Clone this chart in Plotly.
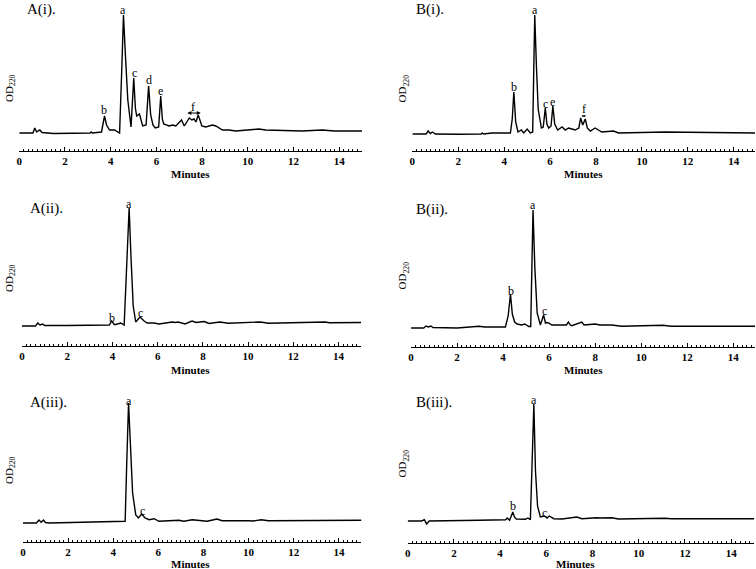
import plotly.graph_objects as go

W, H = 756, 569
SERIF = "Liberation Serif, Times New Roman, serif"

# ---------------- data (retention time in minutes, OD220 signal, arbitrary units) ----------------
a1_t = [0, 0.6, 0.68, 0.76, 0.9, 1.0, 1.5, 2.5, 3.1, 3.15, 3.2, 3.6, 3.73, 3.82, 3.95, 4.17, 4.39, 4.48,
        4.56, 4.64, 4.75, 4.89, 5.01, 5.08, 5.14, 5.26, 5.40, 5.55, 5.66, 5.75, 5.85, 5.95, 6.10, 6.19,
        6.26, 6.32, 6.42, 6.56, 6.71, 6.85, 7.10, 7.22, 7.44, 7.55, 7.65, 7.73, 7.83, 7.99, 8.16, 8.45,
        8.60, 8.89, 9.18, 9.47, 9.98, 10.48, 10.78, 12.37, 13.24, 13.8, 15]
a1_od = [0, 0, 5, 1, 3, 0.5, -0.5, -0.5, 0, 1, 0, 1, 17, 8, 3, 3, 0, 60,
         118, 80, 33, 6, 55, 25, 17, 19, 7, 8, 47, 18, 8, 5, 6, 37,
         14, 9, 8, 7, 8, 7, 13, 7, 15, 13, 14, 11, 18, 7, 6, 8,
         7, 3, 3, 2, 3, 4, 3, 2, 3, 2, 2]
a1_lab_t = [4.56, 3.73, 5.03, 5.66, 6.19, 7.61]
a1_lab_y = [123, 23, 60, 53, 42, 26]
a1_lab = ["a", "b", "c", "d", "e", "f"]

b1_t = [0, 0.6, 0.69, 0.78, 0.87, 1.0, 2.0, 3.0, 3.04, 3.1, 3.47, 4.27, 4.35, 4.42, 4.5, 4.60, 4.75,
        4.85, 5.0, 5.14, 5.24, 5.28, 5.33, 5.40, 5.48, 5.62, 5.70, 5.79, 5.86, 5.94, 6.04, 6.12, 6.20,
        6.33, 6.52, 6.66, 6.80, 6.95, 7.09, 7.25, 7.33, 7.42, 7.53, 7.62, 7.75, 7.96, 8.11, 8.25, 8.76,
        8.98, 11.0, 15]
b1_od = [0, 0, 3, 0.5, 2, 0, -0.3, 0, 1, 0, 1, 1, 15, 42, 12, 2, 4,
         1, 5, 1, 2, 60, 119, 70, 25, 6, 7, 26, 10, 6, 8, 28, 10,
         4, 7, 4, 6, 5, 4, 6, 16, 9, 15, 6, 3, 6, 4, 2, 3,
         1, 2, 1]
b1_lab_t = [5.33, 4.42, 5.79, 6.12, 7.47]
b1_lab_y = [124, 47, 30, 32, 25]
b1_lab = ["a", "b", "c", "e", "f"]

a2_t = [0, 0.6, 0.70, 0.80, 0.92, 1.0, 2.0, 3.0, 3.86, 3.97, 4.08, 4.15, 4.37, 4.52, 4.60, 4.74, 4.82,
        4.92, 5.03, 5.22, 5.40, 5.54, 5.84, 6.06, 6.64, 6.79, 6.91, 7.21, 7.52, 7.70, 7.87, 8.06, 8.27,
        8.46, 8.75, 9.13, 10.53, 10.9, 13.39, 13.6, 15]
a2_od = [0, 0, 3, 1, 2, 0.5, 0.5, 1, 1, 5, 1.5, 1.5, 3, 1, 50, 118, 70,
         20, 4, 9, 5, 3, 3, 2, 4, 3.5, 4, 2, 5, 3.5, 4, 4.5, 2.5,
         3, 4, 2.7, 4, 2.8, 4, 3.2, 3.5]
a2_lab_t = [4.74, 3.99, 5.22]
a2_lab_y = [122, 8, 13]
a2_lab = ["a", "b", "c"]

b2_t = [0, 0.55, 0.65, 0.75, 0.86, 0.95, 2.0, 2.95, 3.2, 4.1, 4.22, 4.32, 4.40, 4.50, 4.61, 4.80, 4.94,
        5.12, 5.20, 5.30, 5.38, 5.48, 5.62, 5.76, 5.84, 5.90, 5.98, 6.12, 6.75, 6.84, 6.92, 6.99, 7.42,
        7.52, 7.64, 8.0, 8.21, 8.72, 9.15, 10.95, 11.3, 15]
b2_od = [0, 0, 2, 1, 2, 0.5, 0, 1.7, 1, 1, 12, 34, 14, 6, 4, 3, 4,
         1.5, 1.5, 118, 60, 15, 3, 13, 5, 5.5, 5, 3, 3, 6, 3, 2.3, 6,
         3, 3.3, 4, 3, 3, 1.7, 2.7, 1.7, 1.7]
b2_lab_t = [5.30, 4.34, 5.79]
b2_lab_y = [123, 37, 17]
b2_lab = ["a", "b", "c"]

a3_t = [0, 0.6, 0.71, 0.81, 0.91, 1.0, 1.18, 2.0, 3.0, 3.82, 4.0, 4.53, 4.60, 4.68, 4.76, 4.86, 5.0,
        5.12, 5.26, 5.41, 5.59, 5.81, 6.03, 6.91, 7.13, 7.5, 7.72, 8.16, 8.6, 8.82, 10.0, 10.2, 10.56,
        10.88, 15]
a3_od = [0, 0, 3, 0.7, 3, 0.5, 0, 0.3, 0.8, 1, 1, 1.7, 60, 120, 80, 30, 8,
         5, 9, 5, 3.3, 4.3, 1.7, 2.7, 1.7, 3.3, 2.7, 1.7, 4, 2.3, 2.3, 2, 3.3,
         2.3, 2.7]
a3_lab_t = [4.68, 5.29]
a3_lab_y = [122, 12]
a3_lab = ["a", "c"]

b3_t = [0, 0.6, 0.72, 0.82, 0.93, 1.1, 2.0, 3.09, 4.24, 4.31, 4.41, 4.48, 4.55, 4.62, 4.70, 5.10, 5.20,
        5.31, 5.38, 5.46, 5.53, 5.62, 5.74, 5.92, 6.03, 6.13, 6.32, 6.68, 7.32, 7.54, 8.18, 8.33, 8.83,
        9.12, 11.13, 11.4, 15]
b3_od = [0, 0, 1.3, -3, 0, 0, 0.3, 0.7, 1.3, 3, 0.7, 4, 9, 4, 2, 1.7, 3,
         1.3, 60, 117, 50, 15, 4, 5, 3, 5, 2.3, 2, 4, 2.3, 3.3, 3, 3.3,
         2, 2.7, 2.3, 2.3]
b3_lab_t = [5.46, 4.55, 5.92]
b3_lab_y = [121, 15, 8]
b3_lab = ["a", "b", "c"]

panel_names = ["A(i).", "B(i).", "A(ii).", "B(ii).", "A(iii).", "B(iii)."]
tick_vals = [0, 2, 4, 6, 8, 10, 12, 14]
tick_text = ["0", "2", "4", "6", "8", "10", "12", "14"]
x_title = "Minutes"
y_title = "OD<sub>220</sub>"

series = [
    (a1_t, a1_od, a1_lab_t, a1_lab_y, a1_lab),
    (b1_t, b1_od, b1_lab_t, b1_lab_y, b1_lab),
    (a2_t, a2_od, a2_lab_t, a2_lab_y, a2_lab),
    (b2_t, b2_od, b2_lab_t, b2_lab_y, b2_lab),
    (a3_t, a3_od, a3_lab_t, a3_lab_y, a3_lab),
    (b3_t, b3_od, b3_lab_t, b3_lab_y, b3_lab),
]
for s in series:
    assert len(s[0]) == len(s[1]), (len(s[0]), len(s[1]))

# ---------------- layout geometry (pixels) ----------------
geom = [
    dict(x0=16.3, ppm=22.95, axis=151, base=133, top=3, lab=(22, 10), od=(7, 88), mins=(188, 174)),
    dict(x0=411.0, ppm=23.05, axis=151, base=134, top=3, lab=(413, 10), od=(402, 88), mins=(583, 174)),
    dict(x0=19.0, ppm=22.71, axis=346, base=326, top=196, lab=(25, 208), od=(7, 278), mins=(188, 370)),
    dict(x0=409.7, ppm=23.1, axis=347, base=328, top=197, lab=(413, 209), od=(402, 275), mins=(583, 370)),
    dict(x0=20.0, ppm=22.66, axis=542, base=523, top=393, lab=(25, 402), od=(7, 470), mins=(188, 564)),
    dict(x0=406.3, ppm=23.2, axis=543, base=521, top=391, lab=(413, 402), od=(402, 463), mins=(575, 564)),
]

fig = go.Figure()
annotations = []
layout_axes = {}

for i, ((t, od, lt, ly, ltxt), g) in enumerate(zip(series, geom), start=1):
    xa = "x" if i == 1 else f"x{i}"
    ya = "y" if i == 1 else f"y{i}"
    xkey = "xaxis" if i == 1 else f"xaxis{i}"
    ykey = "yaxis" if i == 1 else f"yaxis{i}"

    fig.add_trace(go.Scatter(x=t, y=od, mode="lines", xaxis=xa, yaxis=ya,
                             line=dict(color="black", width=1.4), showlegend=False,
                             hoverinfo="skip"))

    x_end_px = min(g["x0"] + 15 * g["ppm"], W - 1)
    layout_axes[xkey] = dict(
        domain=[g["x0"] / W, x_end_px / W],
        range=[0, (x_end_px - g["x0"]) / g["ppm"]],
        anchor=ya, showline=True, linecolor="black", linewidth=1,
        showgrid=False, zeroline=False,
        tickmode="array", tickvals=tick_vals, ticktext=tick_text,
        ticks="inside", ticklen=4, tickwidth=1, tickcolor="black",
        tickfont=dict(family=SERIF, size=11, color="black", weight="bold"),
        minor=dict(tickmode="linear", tick0=0, dtick=0.2, ticks="inside",
                   ticklen=2, tickwidth=1, tickcolor="black", showgrid=False),
        fixedrange=True,
    )
    layout_axes[ykey] = dict(
        domain=[1 - g["axis"] / H, 1 - g["top"] / H],
        range=[-(g["axis"] - g["base"]), g["base"] - g["top"]],
        anchor=xa, visible=False, fixedrange=True,
    )

    for px, py, txt in zip(lt, ly, ltxt):
        annotations.append(dict(x=px, y=py, xref=xa, yref=ya, text=txt, showarrow=False,
                                font=dict(family=SERIF, size=12, color="black"),
                                xanchor="center", yanchor="middle"))
    annotations.append(dict(x=g["lab"][0] / W, y=1 - g["lab"][1] / H, xref="paper", yref="paper",
                            text=panel_names[i - 1], showarrow=False, xanchor="left", yanchor="middle",
                            font=dict(family=SERIF, size=15, color="black")))
    annotations.append(dict(x=g["od"][0] / W, y=1 - g["od"][1] / H, xref="paper", yref="paper",
                            text=y_title, showarrow=False, textangle=-90,
                            xanchor="center", yanchor="middle",
                            font=dict(family=SERIF, size=11, color="black")))
    annotations.append(dict(x=g["mins"][0] / W, y=1 - g["mins"][1] / H, xref="paper", yref="paper",
                            text=x_title, showarrow=False, xanchor="center", yanchor="middle",
                            font=dict(family=SERIF, size=11, color="black", weight="bold")))

annotations.append(dict(x=7.94, y=20, ax=7.29, ay=20, xref="x", yref="y", axref="x", ayref="y",
                        text="", showarrow=True, arrowhead=2, startarrowhead=2, arrowside="end+start",
                        arrowsize=0.8, startarrowsize=0.8, arrowwidth=1, arrowcolor="black"))
annotations.append(dict(x=7.56, y=18, ax=7.30, ay=18, xref="x2", yref="y2", axref="x2", ayref="y2",
                        text="", showarrow=True, arrowhead=2, startarrowhead=2, arrowside="end+start",
                        arrowsize=0.4, startarrowsize=0.4, arrowwidth=1, arrowcolor="black"))

fig.update_layout(
    width=W, height=H,
    margin=dict(l=0, r=0, t=0, b=0),
    paper_bgcolor="white", plot_bgcolor="white",
    showlegend=False,
    annotations=annotations,
    **layout_axes,
)

fig.write_html("out.html", config={"displayModeBar": False},
               post_script="document.body.style.margin='0px';document.body.style.overflow='hidden';")
